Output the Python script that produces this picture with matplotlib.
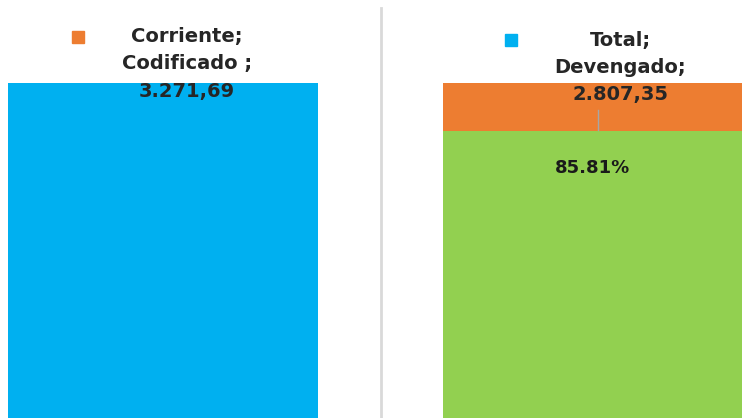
import matplotlib.pyplot as plt

# values (thousands)
categorias = ['Corriente; Codificado', 'Total; Devengado']
codificado = 3271.69
devengado = 2807.35
porcentaje = 85.81
etiquetas = ['Corriente;\nCodificado ;\n3.271,69', 'Total;\nDevengado;\n2.807,35']

azul = '#00B0F0'
naranja = '#ED7D31'
verde = '#92D050'
texto = '#262626'

fig = plt.figure(figsize=(7.42, 4.18), dpi=100)
ax = fig.add_axes([0, 0, 1, 1])
ax.axis('off')

ancho = 0.713
ax.bar([0], [codificado], width=ancho, color=azul)
ax.bar([1], [devengado], width=ancho, color=verde)
ax.bar([1], [codificado - devengado], bottom=[devengado], width=ancho, color=naranja)

ax.set_xlim(-0.3747, 1.331)
ax.set_ylim(0, 4082)

# divider between the two charts
ax.plot([0.501, 0.501], [0, 0.981], color='#D9D9D9', lw=2,
        transform=ax.get_xaxis_transform())

# data labels with legend keys
ax.text(0.252, 0.847, etiquetas[0], transform=ax.transAxes, ha='center', va='center',
        fontsize=14, fontweight='bold', color=texto, linespacing=1.55)
ax.text(0.836, 0.838, etiquetas[1], transform=ax.transAxes, ha='center', va='center',
        fontsize=14, fontweight='bold', color=texto, linespacing=1.55)
ax.plot([78 / 742], [1 - 37 / 418], marker='s', ms=9, color=naranja, transform=ax.transAxes)
ax.plot([511 / 742], [1 - 40 / 418], marker='s', ms=9, color=azul, transform=ax.transAxes)

# leader line
ax.plot([598 / 742, 598 / 742], [1 - 110 / 418, 1 - 130 / 418], color='#A6A6A6', lw=1,
        transform=ax.transAxes)

ax.text(592 / 742, 1 - 168 / 418, '{:.2f}%'.format(porcentaje), transform=ax.transAxes,
        ha='center', va='center', fontsize=13, fontweight='bold', color='#1a1a1a')

fig.savefig('out.png', dpi=100)
